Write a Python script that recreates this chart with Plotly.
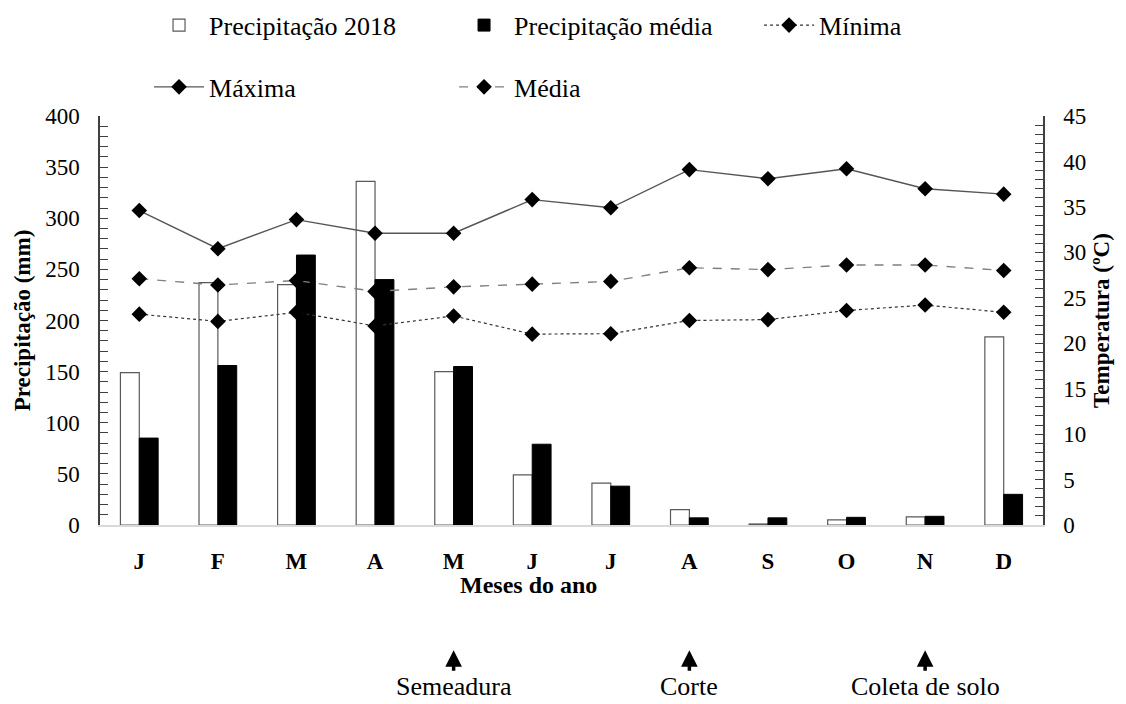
import plotly.graph_objects as go

# Monthly data
months = ["J", "F", "M", "A", "M", "J", "J", "A", "S", "O", "N", "D"]
precip_2018 = [149, 237, 235, 336, 150, 49, 41, 15, 1, 5, 8, 184]
precip_media = [85, 156, 264, 240, 155, 79, 38, 7, 7, 7.5, 8.5, 30]
temp_max = [34.6, 30.4, 33.6, 32.1, 32.1, 35.8, 34.9, 39.1, 38.1, 39.2, 37.0, 36.4]
temp_media = [27.1, 26.4, 26.9, 25.7, 26.2, 26.5, 26.8, 28.3, 28.1, 28.6, 28.6, 28.0]
temp_min = [23.2, 22.4, 23.4, 21.9, 23.0, 21.0, 21.05, 22.5, 22.6, 23.6, 24.2, 23.4]

events = [(4, "Semeadura"), (7, "Corte"), (10, "Coleta de solo")]

xpos = list(range(len(months)))
FONT = "Liberation Serif, Times New Roman, serif"
FS = 23
FS_TITLE = 24
FS_LEGEND = 26

fig = go.Figure()

fig.add_trace(go.Bar(
    x=xpos, y=precip_2018, name="Precipitação 2018",
    marker=dict(color="white", line=dict(color="#5a5a5a", width=1.2)),
    legend="legend",
))
fig.add_trace(go.Bar(
    x=xpos, y=precip_media, name="Precipitação média",
    marker=dict(color="black", line=dict(color="black", width=1)),
    legend="legend",
))

marker = dict(symbol="diamond", size=12, color="black")
fig.add_trace(go.Scatter(
    x=xpos, y=temp_min, name="Mínima", yaxis="y2", mode="lines+markers",
    line=dict(color="#333333", width=1.2, dash="dot"), marker=marker,
    legend="legend",
))
fig.add_trace(go.Scatter(
    x=xpos, y=temp_max, name="Máxima", yaxis="y2", mode="lines+markers",
    line=dict(color="#555555", width=1.4), marker=marker,
    legend="legend2",
))
fig.add_trace(go.Scatter(
    x=xpos, y=temp_media, name="Média", yaxis="y2", mode="lines+markers",
    line=dict(color="#808080", width=1.4, dash="dash"), marker=marker,
    legend="legend2",
))

annotations = []
for idx, label in events:
    annotations.append(dict(
        x=idx, y=-0.306, xref="x", yref="paper", text="", showarrow=True,
        ax=0, ay=22, arrowhead=2, arrowsize=0.95, arrowwidth=3.5, arrowcolor="black",
    ))
    annotations.append(dict(
        x=idx, y=-0.433, xref="x", yref="paper", text=label, showarrow=False,
        font=dict(family=FONT, size=FS_LEGEND, color="black"), yanchor="bottom",
        borderpad=0,
    ))
annotations.append(dict(
    x=0.454, y=-0.147, xref="paper", yref="paper", text="Meses do ano",
    showarrow=False, yanchor="middle",
    font=dict(family=FONT, size=FS_TITLE, color="black", weight="bold"),
))

legend_font = dict(family=FONT, size=FS_LEGEND, color="black")
fig.update_layout(
    width=1126, height=704,
    margin=dict(l=100, r=83, t=116, b=179, autoexpand=False),
    paper_bgcolor="white", plot_bgcolor="white",
    font=dict(family=FONT, size=FS, color="black"),
    barmode="group", bargap=0.52, bargroupgap=0,
    showlegend=True,
    legend=dict(
        orientation="h", x=0.052, y=1.222, xanchor="left", yanchor="middle",
        font=legend_font, entrywidth=240, entrywidthmode="pixels",
        itemwidth=50, bgcolor="rgba(0,0,0,0)",
    ),
    legend2=dict(
        orientation="h", x=0.052, y=1.071, xanchor="left", yanchor="middle",
        font=legend_font, entrywidth=240, entrywidthmode="pixels",
        itemwidth=50, bgcolor="rgba(0,0,0,0)",
    ),
    xaxis=dict(
        range=[-0.5, 11.5], tickmode="array", tickvals=xpos, ticktext=months,
        showline=True, linecolor="#d9d9d9", linewidth=2, ticks="",
        showgrid=False, zeroline=False, ticklabelstandoff=14,
        tickfont=dict(family=FONT, size=FS, color="black", weight="bold"),
    ),
    yaxis=dict(
        range=[0, 400], dtick=50, showgrid=False, zeroline=False,
        showline=True, linecolor="#404040", linewidth=1.5,
        ticks="inside", ticklen=8, tickcolor="#404040",
        minor=dict(dtick=10, ticks="inside", ticklen=8, tickcolor="#404040"),
        ticklabelstandoff=14,
        tickfont=dict(family=FONT, size=FS, color="black"),
        title=dict(text="Precipitação (mm)", standoff=8,
                   font=dict(family=FONT, size=FS, color="black", weight="bold")),
    ),
    yaxis2=dict(
        range=[0, 45], dtick=5, overlaying="y", side="right",
        showgrid=False, zeroline=False,
        showline=True, linecolor="#404040", linewidth=1.5,
        ticks="inside", ticklen=8, tickcolor="#404040",
        minor=dict(dtick=1, ticks="inside", ticklen=8, tickcolor="#404040"),
        ticklabelstandoff=14,
        tickfont=dict(family=FONT, size=FS, color="black"),
        title=dict(text="Temperatura (ºC)", standoff=8,
                   font=dict(family=FONT, size=FS, color="black", weight="bold")),
    ),
    annotations=annotations,
)

fig.write_html("out.html")
